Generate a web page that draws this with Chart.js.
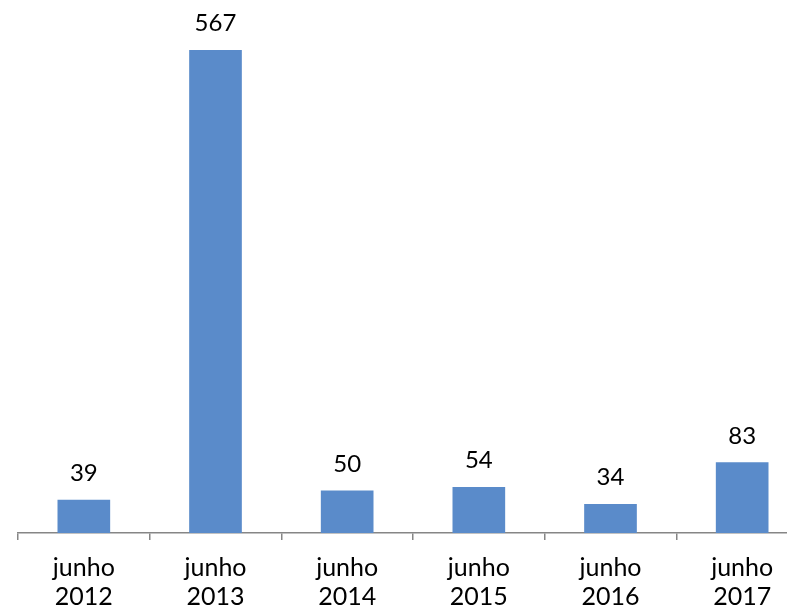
<!DOCTYPE html>
<html>
<head>
<meta charset="utf-8">
<script src="https://cdn.jsdelivr.net/npm/chart.js@4"></script>
<style>
html,body{margin:0;padding:0;overflow:hidden;background:#fff;width:787px;height:612px;}
#wrap{position:absolute;left:0;top:0;width:830px;height:612px;}
</style>
</head>
<body>
<div id="wrap"><canvas id="c" width="830" height="612"></canvas></div>
<script>
const categories = [['junho','2012'],['junho','2013'],['junho','2014'],['junho','2015'],['junho','2016'],['junho','2017']];
const values = [39, 567, 50, 54, 34, 83];
const yMin = 0, yMax = 600;

const FONT = 'Lato, "Open Sans", sans-serif';

const valueLabels = {
  id: 'valueLabels',
  afterDatasetsDraw(chart) {
    const ctx = chart.ctx;
    const meta = chart.getDatasetMeta(0);
    ctx.save();
    ctx.font = '24px ' + FONT;
    ctx.fillStyle = '#000';
    ctx.textAlign = 'center';
    ctx.textBaseline = 'middle';
    meta.data.forEach((bar, i) => {
      ctx.fillText(String(values[i]), bar.x, bar.y - 26.5);
    });
    ctx.restore();
  }
};

new Chart(document.getElementById('c'), {
  type: 'bar',
  data: {
    labels: categories,
    datasets: [{
      data: values,
      backgroundColor: '#5a8bca',
      borderWidth: 0,
      barPercentage: 0.4,
      categoryPercentage: 1.0
    }]
  },
  options: {
    responsive: false,
    animation: false,
    devicePixelRatio: 1,
    layout: { padding: { left: 18, right: 22, top: 22, bottom: 0 } },
    plugins: { legend: { display: false }, tooltip: { enabled: false } },
    scales: {
      x: {
        offset: true,
        afterFit(scale) { scale.height = 79; },
        grid: { display: true, drawOnChartArea: false, offset: true, tickLength: 7, color: '#868686', lineWidth: 1.5 },
        border: { display: true, color: '#868686', width: 1.5 },
        ticks: { color: '#000', font: { family: FONT, size: 25, lineHeight: 1.18 }, padding: 13, maxRotation: 0, autoSkip: false }
      },
      y: {
        display: false,
        min: yMin,
        max: yMax
      }
    }
  },
  plugins: [valueLabels]
});
</script>
</body>
</html>
